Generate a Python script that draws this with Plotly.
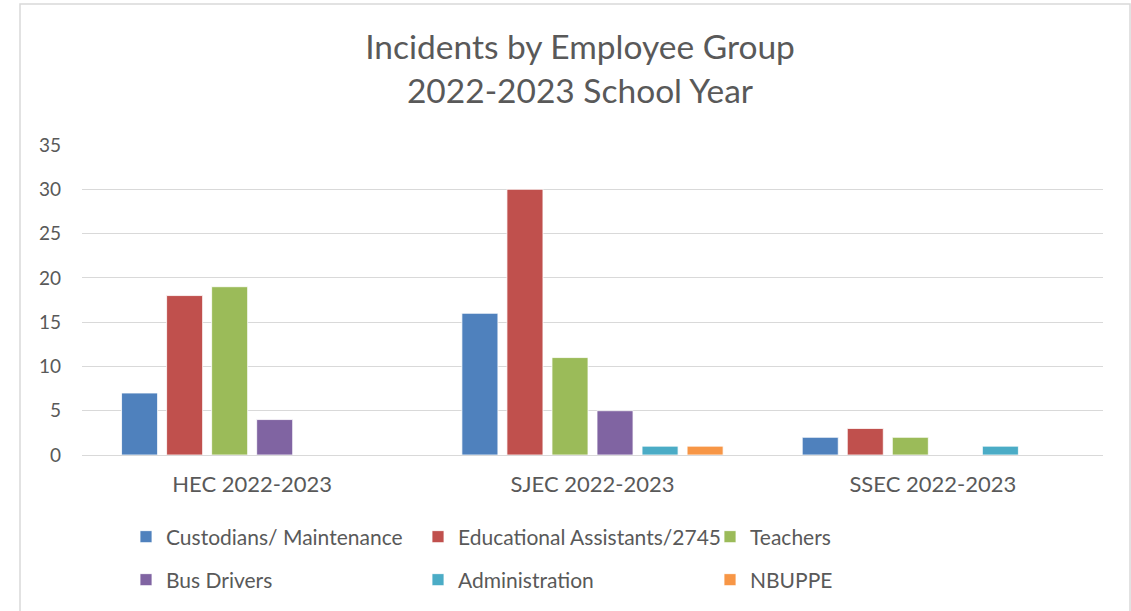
import plotly.graph_objects as go

categories = ["HEC 2022-2023", "SJEC 2022-2023", "SSEC 2022-2023"]
series_names = ["Custodians/ Maintenance", "Educational Assistants/2745", "Teachers",
                "Bus Drivers", "Administration", "NBUPPE"]
custodians = [7, 16, 2]
educational_assistants = [18, 30, 3]
teachers = [19, 11, 2]
bus_drivers = [4, 5, 0]
administration = [0, 1, 1]
nbuppe = [0, 1, 0]
y_ticks = [0, 5, 10, 15, 20, 25, 30, 35]

values = [custodians, educational_assistants, teachers, bus_drivers, administration, nbuppe]
colors = ["#4F81BD", "#C0504D", "#9BBB59", "#8064A2", "#4BACC6", "#F79646"]

FONT = "Lato"
TXT = "#595959"
W, H = 1131, 611
L, R, T, B = 82, 28, 145, 156
pw, ph = W - L - R, H - T - B

fig = go.Figure()
for i, (name, vals, col) in enumerate(zip(series_names, values, colors)):
    fig.add_trace(go.Bar(
        x=categories, y=vals, name=name,
        marker=dict(color=col, line=dict(color="white", width=0.8)),
        legend="legend" if i < 3 else "legend2",
    ))

def px_x(p):
    return (p - L) / pw

def px_y(p):
    return (H - B - p) / ph

legend_common = dict(
    orientation="h", font=dict(family=FONT, size=21, color=TXT),
    entrywidth=247, entrywidthmode="pixels", xanchor="left", yanchor="middle",
    xref="container", yref="container",
    bgcolor="rgba(0,0,0,0)", itemclick=False, traceorder="normal",
)

fig.update_layout(
    width=W, height=H,
    margin=dict(l=L, r=R, t=T, b=B),
    paper_bgcolor="white", plot_bgcolor="white",
    title=dict(text="Incidents by Employee Group<br>2022-2023 School Year",
               x=580 / W, xanchor="center", xref="container",
               y=1 - 59 / H, yanchor="top", yref="container",
               font=dict(family=FONT, size=33.5, color=TXT)),
    barmode="group", bargap=0.206, bargroupgap=0.2,
    showlegend=True,
    legend=dict(x=126 / W, y=1 - 537 / H, **legend_common),
    legend2=dict(x=126 / W, y=1 - 580 / H, **legend_common),
    xaxis=dict(tickfont=dict(family=FONT, size=22, color=TXT), showgrid=False,
               showline=False, ticks="", ticklabelstandoff=14, automargin=False),
    yaxis=dict(range=[0, 35], tickvals=y_ticks, showgrid=True, gridcolor="#D9D9D9",
               gridwidth=1.3, zeroline=True, zerolinecolor="#D9D9D9", zerolinewidth=1.3,
               tickfont=dict(family=FONT, size=19, color=TXT), ticks="",
               ticklabelstandoff=20, showline=False, automargin=False),
    shapes=[dict(type="rect", xref="paper", yref="paper",
                 x0=px_x(20), x1=px_x(1130), y0=px_y(620), y1=px_y(4),
                 line=dict(color="#D9D9D9", width=1.5), fillcolor="rgba(0,0,0,0)",
                 layer="below")],
)

fig.write_html("out.html")
